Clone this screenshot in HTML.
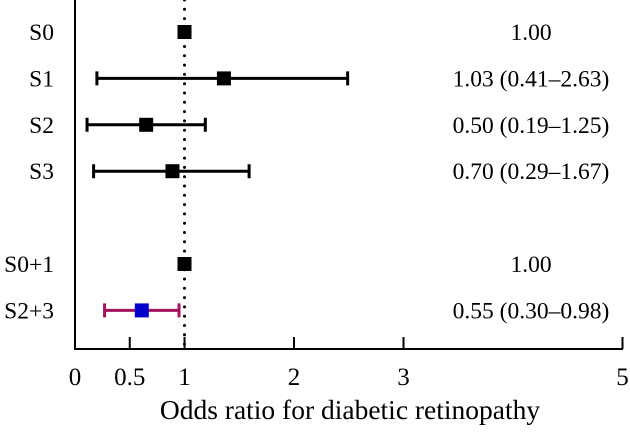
<!DOCTYPE html>
<html><head><meta charset="utf-8"><style>
body{margin:0;background:#fff;}
svg text{font-family:"Liberation Serif",serif;fill:#000;}
</style></head><body>
<svg id="chart" width="630" height="429" viewBox="0 0 630 429" xmlns="http://www.w3.org/2000/svg">
<g id="plot"></g>
</svg>
<script>
const categories = ["S0","S1","S2","S3","S0+1","S2+3"];
const estimates = [1.0, 1.36, 0.65, 0.89, 1.0, 0.61];
const lowerCI = [null, 0.20, 0.11, 0.17, null, 0.27];
const upperCI = [null, 2.49, 1.19, 1.59, null, 0.95];
const printedValues = ["1.00","1.03 (0.41–2.63)","0.50 (0.19–1.25)","0.70 (0.29–1.67)","1.00","0.55 (0.30–0.98)"];
const rowIndex = [0,1,2,3,5,6];
const tickValues = [0,0.5,1,2,3,5];
const tickLabels = ["0","0.5","1","2","3","5"];

const NS="http://www.w3.org/2000/svg";
const g=document.getElementById('plot');
const xs=v=>75+v*109.5;
const ys=i=>32+i*46.4;
const axisY=349;
function mk(t,a){const e=document.createElementNS(NS,t);for(const k in a)e.setAttribute(k,a[k]);g.appendChild(e);return e;}

let e=mk('line',{x1:75,y1:0,x2:75,y2:axisY,stroke:'#000','stroke-width':2});


e=mk('line',{x1:74,y1:axisY,x2:623,y2:axisY,stroke:'#000','stroke-width':2});


e=mk('line',{x1:xs(1),y1:0,x2:xs(1),y2:axisY,stroke:'#000','stroke-width':3,'stroke-dasharray':'0 9.3','stroke-linecap':'round'});



tickValues.forEach((v,i)=>{
  if(v>0){const t=mk('line',{x1:xs(v),y1:axisY-12,x2:xs(v),y2:axisY,stroke:'#000','stroke-width':2});
  
  }
  const l=mk('text',{x:xs(v),y:385,'text-anchor':'middle','font-size':25});
  l.textContent=tickLabels[i];
  
  
});
e=mk('text',{x:350,y:419,'text-anchor':'middle','font-size':27.5});
e.textContent='Odds ratio for diabetic retinopathy';



categories.forEach((c,i)=>{
  const y=ys(rowIndex[i]);
  const red=c==='S2+3';
  const lc=red?'#a3145e':'#000';
  const lab=mk('text',{x:54,y:y+8,'text-anchor':'end','font-size':23.5});
  lab.textContent=c;
  
  
  if(lowerCI[i]!=null){
    const a=xs(lowerCI[i]),b=xs(upperCI[i]);
    const l=mk('path',{d:`M${a},${y}H${b}M${a},${y-7}V${y+7}M${b},${y-7}V${y+7}`,stroke:lc,'stroke-width':3,fill:'none'});
    
    
  }
  const s=14;
  const r=mk('rect',{x:xs(estimates[i])-s/2,y:y-s/2,width:s,height:s,fill:red?'#0000c8':'#000'});
  
  
  const v=mk('text',{x:531,y:y+8,'text-anchor':'middle','font-size':23.5});
  v.textContent=printedValues[i];
  
  
});
</script>
</body></html>
